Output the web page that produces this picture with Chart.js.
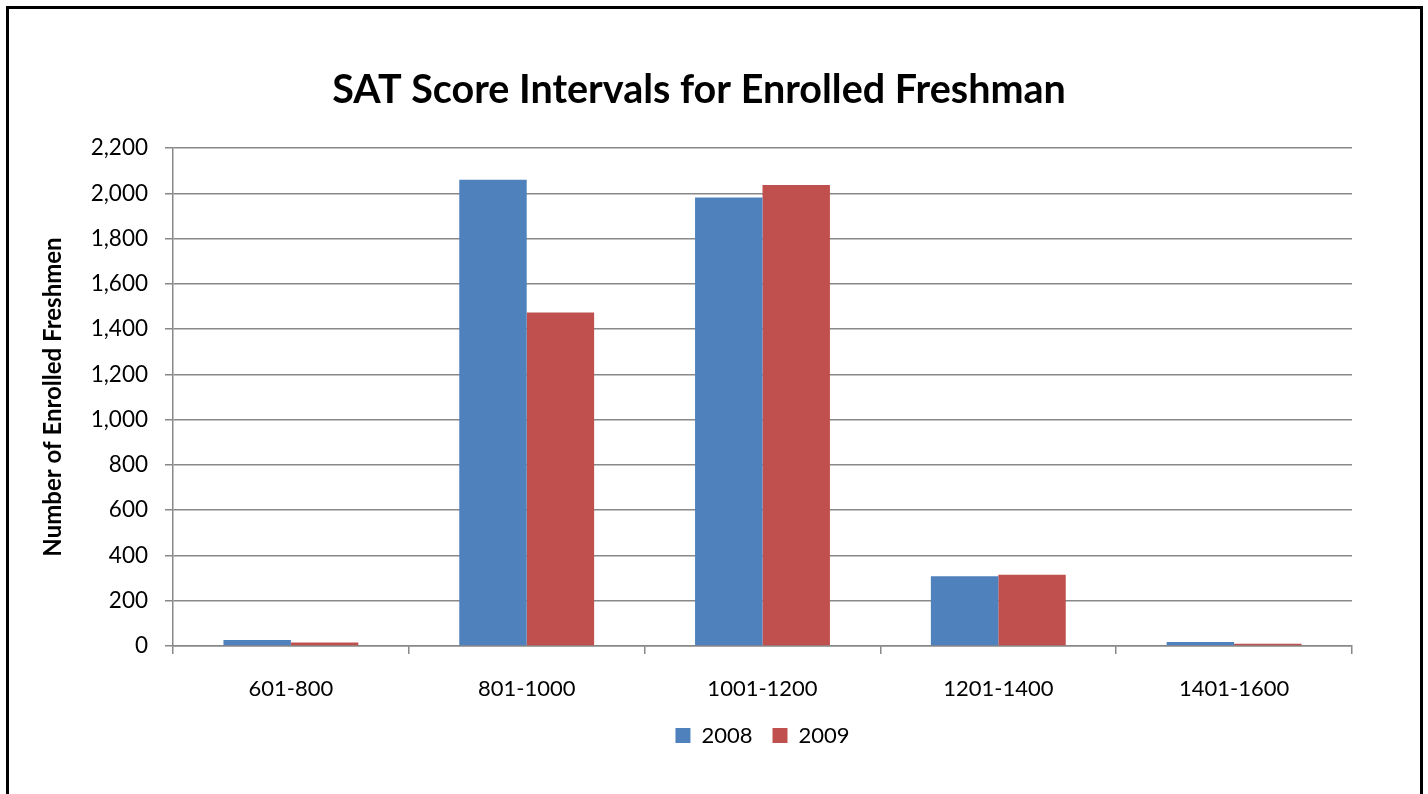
<!DOCTYPE html>
<html>
<head>
<meta charset="utf-8">
<script src="https://cdn.jsdelivr.net/npm/chart.js@4"></script>
<style>
  html, body { margin: 0; padding: 0; background: #fff; overflow: hidden; }
  #frame { position: absolute; left: 6px; top: 6px; width: 1411px; height: 900px; border: 3px solid #000; }
  #chart { position: absolute; left: 0; top: 0; }
</style>
</head>
<body>
<div id="frame"></div>
<canvas id="chart" width="1428" height="794"></canvas>
<script>
var categories = ['601-800', '801-1000', '1001-1200', '1201-1400', '1401-1600'];
var values2008 = [27, 2060, 1981, 308, 18];
var values2009 = [15, 1473, 2037, 315, 10];
var yTicks = [0, 200, 400, 600, 800, 1000, 1200, 1400, 1600, 1800, 2000, 2200];

var font = 'Lato, "Open Sans", sans-serif';
var gridColor = '#888888';

new Chart(document.getElementById('chart').getContext('2d'), {
  type: 'bar',
  data: {
    labels: categories,
    datasets: [{
      label: '2008',
      data: values2008,
      backgroundColor: '#4F81BD',
      borderWidth: 0
    }, {
      label: '2009',
      data: values2009,
      backgroundColor: '#C0504D',
      borderWidth: 0
    }]
  },
  options: {
    responsive: false,
    animation: false,
    datasets: {
      bar: { categoryPercentage: 0.572, barPercentage: 1.0 }
    },
    layout: { padding: { left: 46, right: 76, top: 0, bottom: 37.5 } },
    plugins: {
      tooltip: { enabled: false },
      title: {
        display: true,
        text: 'SAT Score Intervals for Enrolled Freshman',
        color: '#000',
        font: { family: font, size: 39.5, weight: 'bold', lineHeight: 1.2 },
        padding: { top: 66.3, bottom: 34.3 }
      },
      legend: {
        position: 'bottom',
        fullSize: false,
        labels: {
          color: '#000',
          font: { family: font, size: 22 },
          boxWidth: 15,
          boxHeight: 15,
          padding: 20
        }
      }
    },
    scales: {
      x: {
        afterFit: function(scale) { scale.height = 58.5; },
        grid: {
          offset: true,
          drawOnChartArea: false,
          drawTicks: true,
          tickLength: 8,
          color: gridColor,
          lineWidth: 1.5
        },
        border: { color: gridColor, width: 1.5 },
        ticks: { color: '#000', font: { family: font, size: 22 }, padding: 22 }
      },
      y: {
        min: 0,
        max: 2200,
        afterFit: function(scale) { scale.width = 127; },
        afterBuildTicks: function(scale) {
          scale.ticks = yTicks.map(function(v) { return { value: v }; });
        },
        grid: {
          color: gridColor,
          lineWidth: 1.5,
          tickLength: 8
        },
        border: { color: gridColor, width: 1.5 },
        ticks: {
          color: '#000',
          font: { family: font, size: 22.5 },
          padding: 17,
          callback: function(v) { return v.toLocaleString('en-US'); }
        },
        title: {
          display: true,
          text: 'Number of Enrolled Freshmen',
          color: '#000',
          font: { family: font, size: 24, weight: 'bold', lineHeight: 0.58 },
          padding: 0
        }
      }
    }
  }
});
</script>
</body>
</html>
